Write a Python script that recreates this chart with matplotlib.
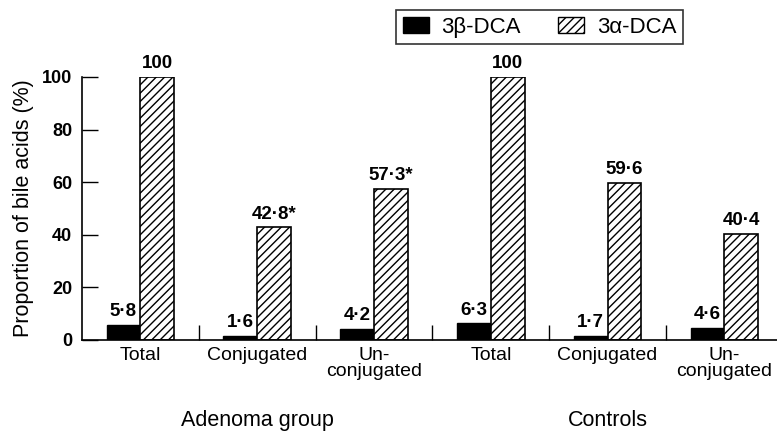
import matplotlib
matplotlib.use("Agg")
import matplotlib.pyplot as plt
import numpy as np
from matplotlib.patches import Patch

plt.rcParams['font.family'] = ['Liberation Sans', 'DejaVu Sans']
plt.rcParams['hatch.linewidth'] = 1.0

# Daten
categories = ["Total", "Conjugated", "Un-\nconjugated", "Total", "Conjugated", "Un-\nconjugated"]
groups = ["Adenoma group", "Controls"]
group_centers = [1, 4]
beta_vals = [5.8, 1.6, 4.2, 6.3, 1.7, 4.6]
alpha_vals = [100, 42.8, 57.3, 100, 59.6, 40.4]
beta_labels = ["5·8", "1·6", "4·2", "6·3", "1·7", "4·6"]
alpha_labels = ["100", "42·8*", "57·3*", "100", "59·6", "40·4"]

fig = plt.figure(figsize=(7.77, 4.32), dpi=100)
ax = fig.add_axes([0.1055, 0.213, 0.8945, 0.609])

x = np.arange(len(categories))
w = 0.29

ax.bar(x - w / 2, beta_vals, width=w, color='black', edgecolor='black', linewidth=1)
ax.bar(x + w / 2, alpha_vals, width=w, color='white', edgecolor='black', hatch='////', linewidth=1.2)

# Werte ueber den Balken
for xi, v, lab in zip(x, beta_vals, beta_labels):
    ax.text(xi - w / 2, v + 1.8, lab, ha='center', va='bottom', fontsize=13.5,
            fontweight='bold', clip_on=False)
for xi, v, lab in zip(x, alpha_vals, alpha_labels):
    ax.text(xi + w / 2, v + 1.8, lab, ha='center', va='bottom', fontsize=13.5,
            fontweight='bold', clip_on=False)

ax.set_xlim(-0.5, 5.45)
ax.set_ylim(0, 100)
ax.set_yticks([0, 20, 40, 60, 80, 100])
ax.tick_params(axis='y', direction='in', length=11.5, width=1, labelsize=13, pad=7)
for t in ax.get_yticklabels():
    t.set_fontweight('bold')

# Trennstriche zwischen Kategorien
ax.set_xticks(x[:-1] + 0.5)
ax.set_xticklabels([])
ax.tick_params(axis='x', direction='in', length=11, width=1)

for xi, cat in zip(x, categories):
    ax.text(xi, -2.5, cat, ha='center', va='top', fontsize=14, linespacing=0.95,
            clip_on=False)

for gc, g in zip(group_centers, groups):
    ax.text(gc, -32.6, g, ha='center', va='baseline', fontsize=15.5, clip_on=False)

ax.spines['top'].set_visible(False)
ax.spines['right'].set_visible(False)
ax.spines['left'].set_linewidth(1.2)
ax.spines['bottom'].set_linewidth(1.2)

ax.set_ylabel("Proportion of bile acids (%)", fontsize=15.5, labelpad=6)

handles = [Patch(facecolor='black', edgecolor='black', label='3β-DCA'),
           Patch(facecolor='white', edgecolor='black', hatch='////', label='3α-DCA')]
leg = fig.legend(handles=handles, loc='upper left', bbox_to_anchor=(0.5097, 0.977),
                 ncol=2, frameon=True, fancybox=False, fontsize=16,
                 handlelength=1.2, handleheight=0.75, columnspacing=1.65,
                 borderpad=0.3, borderaxespad=0, handletextpad=0.55)
leg.get_frame().set_edgecolor('black')
leg.get_frame().set_linewidth(1.2)

fig.savefig("out.png", dpi=100)
